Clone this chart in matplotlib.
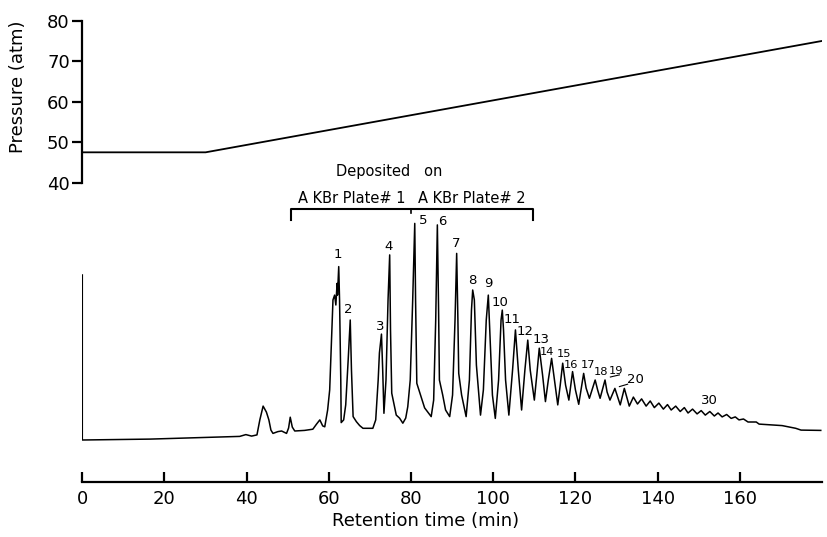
import matplotlib
matplotlib.use("Agg")
import matplotlib.pyplot as plt
import numpy as np

# ---------------- data ----------------
pressure_time = [0, 30, 180]
pressure_atm = [47.5, 47.5, 75.0]

trace_time = [
    0.0, 0.0, 16.5, 28.6, 38.3, 39.8, 41.2, 42.5, 43.2, 44.0, 44.8, 45.4, 45.9, 46.4,
    47.6, 48.5, 49.7, 50.2, 50.6, 51.1, 51.7, 54.1, 56.1, 57.0, 57.8, 58.5, 59.0,
    59.7, 60.2, 61.0, 61.4, 61.7, 62.0, 62.1, 62.4, 62.6, 62.9, 63.0, 63.6, 64.1,
    64.7, 65.2, 65.5, 65.9, 66.7, 67.5, 68.3, 70.7, 71.4, 72.0, 72.3, 72.8, 73.1,
    73.4, 73.9, 74.4, 74.8, 75.0, 75.3, 76.4, 77.2, 78.0, 78.7, 79.2, 79.8, 80.4,
    80.9, 81.1, 81.4, 82.3, 83.3, 84.9, 85.5, 86.0, 86.4, 86.7, 86.9, 87.7, 88.4,
    89.4, 90.1, 90.7, 91.1, 91.4, 91.6, 92.3, 93.4, 94.2, 94.7, 95.0, 95.4, 95.9,
    96.9, 97.6, 98.3, 98.8, 99.3, 99.8, 100.5, 101.3, 101.9, 102.2, 102.5, 103.0,
    103.8, 104.7, 105.4, 106.1, 106.9, 107.7, 108.4, 109.0, 110.0, 110.6, 111.2,
    112.0, 112.7, 113.4, 114.2, 114.9, 115.7, 116.3, 116.9, 117.6, 118.4, 119.3,
    120.0, 120.8, 122.0, 122.6, 123.4, 124.8, 125.4, 126.0, 127.2, 127.7, 128.4,
    129.6, 130.9, 131.9, 133.1,
    134.1, 135.1, 136.1, 137.2, 138.2, 139.2, 140.3, 141.4, 142.4, 143.3, 144.4,
    145.5, 146.5, 147.4, 148.5, 149.6, 150.6, 151.6, 152.7, 153.8, 154.7, 155.7,
    156.8, 157.9, 158.9, 159.8, 160.9, 162.0, 164.0, 164.7, 170.3, 173.6, 174.9,
    179.7,
]
trace_signal = [
    69.0, 14.0, 14.3, 14.8, 15.2, 15.8, 15.3, 15.7, 20.7, 25.3, 23.3, 20.7, 17.3, 16.2,
    16.8, 17.0, 16.2, 18.0, 21.6, 18.3, 17.0, 17.2, 17.6, 19.3, 20.7, 18.7, 18.4,
    24.0, 30.7, 60.7, 62.3, 59.0, 66.2, 62.3, 71.8, 60.7, 34.0, 19.8, 20.7, 25.7,
    40.7, 54.0, 37.3, 21.8, 20.1, 18.8, 17.9, 17.9, 20.7, 34.0, 43.0, 49.3, 37.3,
    22.9, 34.0, 60.7, 75.7, 50.7, 29.6, 22.3, 21.3, 19.6, 21.3, 25.1, 34.0, 60.7,
    86.2, 60.7, 32.9, 29.0, 24.7, 21.8, 27.3, 54.0, 85.7, 57.3, 34.0, 29.0, 24.0,
    21.8, 29.0, 54.0, 76.2, 54.0, 36.2, 29.0, 21.8, 34.0, 57.3, 64.0, 60.7, 39.0,
    22.3, 30.7, 54.0, 62.3, 45.7, 29.0, 21.2, 34.0, 54.0, 57.3, 50.7, 34.0,
    22.3, 37.3, 50.7, 37.3, 24.0, 37.3, 47.3, 37.3, 27.3, 35.7, 44.6,
    35.7, 26.8, 34.0, 41.2, 34.0, 25.7, 32.3, 39.6, 32.3, 27.3, 36.8,
    30.7, 25.9, 36.2, 31.3, 27.9, 34.0, 30.7, 27.9, 34.0, 30.0, 27.3,
    31.2, 25.7, 31.2, 25.3,
    28.3, 26.0, 27.7, 25.3, 27.0, 24.8, 26.3, 24.3, 25.8, 24.0, 25.3,
    23.5, 24.8, 23.0, 24.3, 22.7, 23.8, 22.3, 23.5, 22.0, 23.0, 21.7,
    22.5, 21.2, 21.7, 20.7, 21.0, 20.0, 20.0, 19.3, 18.8, 17.9, 17.3,
    17.2,
]

peak_labels = ["1", "2", "3", "4", "5", "6", "7", "8", "9", "10", "11", "12", "13",
               "14", "15", "16", "17", "18", "19", "20", "30"]
peak_label_time = [62.1, 64.8, 72.5, 74.6, 82.9, 87.7, 91.0, 95.0, 98.7, 101.7, 104.5,
                   107.8, 111.6, 113.0, 117.3, 119.0, 123.0, 126.1, 129.9, 134.6, 152.5]
peak_label_height = [75.7, 57.6, 52.0, 78.4, 87.1, 86.8, 79.6, 67.3, 66.2, 60.0, 54.2,
                     50.3, 47.6, 43.2, 42.8, 39.0, 39.0, 36.7, 37.0, 34.2, 27.1]

x_ticks = [0, 20, 40, 60, 80, 100, 120, 140, 160]
p_ticks = [40, 50, 60, 70, 80]

bracket_start, bracket_mid, bracket_end = 50.9, 80.0, 109.6
plate_labels = ["A KBr Plate# 1", "A KBr Plate# 2"]

# ---------------- figure ----------------
plt.rcParams['font.family'] = ['DejaVu Sans']
fig = plt.figure(figsize=(8.27, 5.37), dpi=100)

left = 82.3 / 827
width = (822 - 82.3) / 827

# pressure axes
axp = fig.add_axes([left, 1 - 182.7 / 537, width, (182.7 - 20.7) / 537])
axp.plot(pressure_time, pressure_atm, color='black', lw=1.3)
axp.set_xlim(0, 180)
axp.set_ylim(40, 80)
axp.set_yticks(p_ticks)
axp.set_xticks([])
for s in ['top', 'right', 'bottom']:
    axp.spines[s].set_visible(False)
axp.spines['left'].set_linewidth(1.6)
axp.tick_params(axis='y', direction='out', length=7, width=1.6, labelsize=13, pad=2)
axp.patch.set_alpha(0)
fig.text(18 / 827, 1 - 87 / 537, "Pressure (atm)", rotation=90, ha='center', va='center',
         fontsize=13)

# chromatogram axes
ax = fig.add_axes([left, 1 - 482 / 537, width, 300 / 537])
ax.plot(trace_time, trace_signal, color='black', lw=1.1)
ax.set_xlim(0, 180)
ax.set_ylim(0, 100)
ax.set_yticks([])
ax.set_xticks(x_ticks)
for s in ['top', 'right', 'left']:
    ax.spines[s].set_visible(False)
ax.spines['bottom'].set_linewidth(1.6)
ax.tick_params(axis='x', direction='in', length=7.5, width=1.6, labelsize=13, pad=6)
ax.patch.set_alpha(0)
ax.set_xlabel("Retention time (min)", fontsize=13)
ax.xaxis.set_label_coords((426 - 82.3) / (822 - 82.3), -0.10)

for lab, t, h in zip(peak_labels, peak_label_time, peak_label_height):
    fs = 8.2 if lab in ("14", "15", "16", "17", "18", "19") else 9.5
    ax.text(t, h, lab, ha='center', va='center', fontsize=fs)

# leaders for 19 and 20
ax.plot([128.5, 130.7], [35.0, 35.7], color='black', lw=0.8)
ax.plot([130.7, 132.7], [31.8, 32.6], color='black', lw=0.8)

# bracket
by, bdrop = 90.9, 87.3
ax.plot([bracket_start, bracket_start, bracket_end, bracket_end],
        [bdrop, by, by, bdrop], color='black', lw=1.5, clip_on=False)
ax.plot([bracket_mid, bracket_mid], [by, 89.6], color='black', lw=1.2, clip_on=False)
ax.text((bracket_start + bracket_mid) / 2, 94.6, plate_labels[0], ha='center', va='center',
        fontsize=10.5)
ax.text((bracket_mid + bracket_end) / 2, 94.6, plate_labels[1], ha='center', va='center',
        fontsize=10.5)
ax.text(74.8, 103.4, "Deposited   on", ha='center', va='center', fontsize=10.5)

fig.savefig("out.png", dpi=100)
